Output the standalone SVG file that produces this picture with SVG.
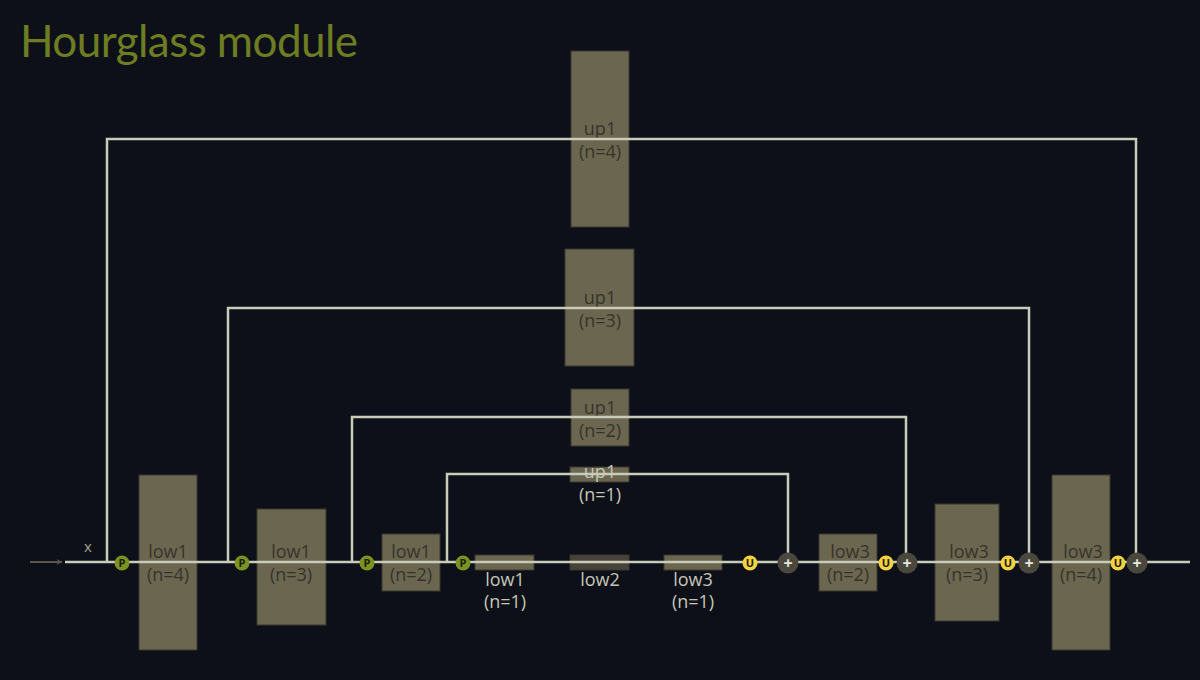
<svg xmlns="http://www.w3.org/2000/svg" width="1200" height="680" viewBox="0 0 1200 680">
<defs>
<style>
.bg{fill:#0d1018}
.box{fill:#6b6650;stroke:#3a382e;stroke-width:1}
.dbox{fill:#46443a;stroke:#3a382e;stroke-width:1}
.ln{fill:none;stroke:#c9ccb8;stroke-width:2.5}
.t{font-family:"Open Sans","Liberation Sans",sans-serif;font-size:18px;text-anchor:middle}
.dk{fill:#35342b}
.lt{fill:#c6c6b6}
.pc{fill:#7a9220}
.uc{fill:#f2d23e}
.ac{fill:#4a473c}
.ct{font-family:"Open Sans","Liberation Sans",sans-serif;font-size:11px;text-anchor:middle;fill:#1c1c10;font-weight:bold}
.pt{font-family:"Open Sans","Liberation Sans",sans-serif;font-size:16px;text-anchor:middle;fill:#e8e8e0;font-weight:bold}
</style>
<marker id="ah" viewBox="0 0 10 10" refX="9" refY="5" markerWidth="8" markerHeight="6" orient="auto" markerUnits="userSpaceOnUse">
<path d="M0,0 L10,5 L0,10 L3,5 z" fill="#5a5748"/>
</marker>
</defs>
<rect class="bg" x="0" y="0" width="1200" height="680"/>
<text x="20" y="57" font-family="Lato,'Open Sans',sans-serif" font-size="44" fill="#6e7d22" textLength="338">Hourglass module</text>

<g id="boxes">
<g id="up1_n4"><rect class="box" x="571" y="51" width="58" height="176"/><text class="t dk" x="600" y="135">up1</text><text class="t dk" x="600" y="158">(n=4)</text></g>
<g id="up1_n3"><rect class="box" x="565" y="249" width="69" height="117"/><text class="t dk" x="600" y="304">up1</text><text class="t dk" x="600" y="327">(n=3)</text></g>
<g id="up1_n2"><rect class="box" x="571" y="389" width="58" height="57"/><text class="t dk" x="600" y="414">up1</text><text class="t dk" x="600" y="437">(n=2)</text></g>
<g id="up1_n1"><rect class="box" x="570" y="467" width="59" height="15"/><text class="t lt" x="600" y="478">up1</text><text class="t lt" x="600" y="501">(n=1)</text></g>
<g id="low1_n4"><rect class="box" x="139" y="475" width="58" height="175"/><text class="t dk" x="168" y="558">low1</text><text class="t dk" x="168" y="581">(n=4)</text></g>
<g id="low1_n3"><rect class="box" x="257" y="509" width="69" height="116"/><text class="t dk" x="291" y="558">low1</text><text class="t dk" x="291" y="581">(n=3)</text></g>
<g id="low1_n2"><rect class="box" x="382" y="534" width="58" height="57"/><text class="t dk" x="411" y="558">low1</text><text class="t dk" x="411" y="581">(n=2)</text></g>
<g id="low1_n1"><rect class="box" x="475" y="555" width="59" height="15"/><text class="t lt" x="505" y="586">low1</text><text class="t lt" x="505" y="608">(n=1)</text></g>
<g id="low2"><rect class="dbox" x="570" y="555" width="59" height="15"/><text class="t lt" x="600" y="586">low2</text></g>
<g id="low3_n1"><rect class="box" x="664" y="555" width="58" height="15"/><text class="t lt" x="693" y="586">low3</text><text class="t lt" x="693" y="608">(n=1)</text></g>
<g id="low3_n2"><rect class="box" x="819" y="534" width="58" height="57"/><text class="t dk" x="850" y="558">low3</text><text class="t dk" x="848" y="581">(n=2)</text></g>
<g id="low3_n3"><rect class="box" x="935" y="504" width="64" height="117"/><text class="t dk" x="969" y="558">low3</text><text class="t dk" x="967" y="581">(n=3)</text></g>
<g id="low3_n4"><rect class="box" x="1052" y="475" width="58" height="175"/><text class="t dk" x="1083" y="558">low3</text><text class="t dk" x="1081" y="581">(n=4)</text></g>
</g>

<g id="connectors">
<line x1="30" y1="562" x2="62" y2="562" stroke="#5a5748" stroke-width="2" marker-end="url(#ah)"/>
<line class="ln" x1="65" y1="562" x2="1190" y2="562"/>
<polyline class="ln" points="107,562 107,139 1136,139 1136,562"/>
<polyline class="ln" points="228,562 228,308 1029,308 1029,562"/>
<polyline class="ln" points="352,562 352,417 906,417 906,562"/>
<polyline class="ln" points="447,562 447,474 788,474 788,562"/>
</g>
<text x="88" y="552" font-family="'Open Sans','Liberation Sans',sans-serif" font-size="15" fill="#a8a290" text-anchor="middle">x</text>

<g id="pool_ops">
<g id="p4"><circle class="pc" cx="122" cy="563" r="7.5"/><text class="ct" x="122" y="567">P</text></g>
<g id="p3"><circle class="pc" cx="242" cy="563" r="7.5"/><text class="ct" x="242" y="567">P</text></g>
<g id="p2"><circle class="pc" cx="367" cy="563" r="7.5"/><text class="ct" x="367" y="567">P</text></g>
<g id="p1"><circle class="pc" cx="463" cy="563" r="7.5"/><text class="ct" x="463" y="567">P</text></g>
</g>
<g id="up_ops">
<g id="u1"><circle class="uc" cx="750" cy="563" r="7.5"/><text class="ct" x="750" y="567">U</text></g>
<g id="u2"><circle class="uc" cx="886" cy="563" r="7.5"/><text class="ct" x="886" y="567">U</text></g>
<g id="u3"><circle class="uc" cx="1008" cy="563" r="7.5"/><text class="ct" x="1008" y="567">U</text></g>
<g id="u4"><circle class="uc" cx="1118" cy="563" r="7.5"/><text class="ct" x="1118" y="567">U</text></g>
</g>
<g id="add_ops">
<g id="a1"><circle class="ac" cx="788" cy="563" r="10.5"/><text class="pt" x="788" y="569">+</text></g>
<g id="a2"><circle class="ac" cx="907" cy="563" r="10.5"/><text class="pt" x="907" y="569">+</text></g>
<g id="a3"><circle class="ac" cx="1029" cy="563" r="10.5"/><text class="pt" x="1029" y="569">+</text></g>
<g id="a4"><circle class="ac" cx="1137" cy="563" r="10.5"/><text class="pt" x="1137" y="569">+</text></g>
</g>
</svg>
